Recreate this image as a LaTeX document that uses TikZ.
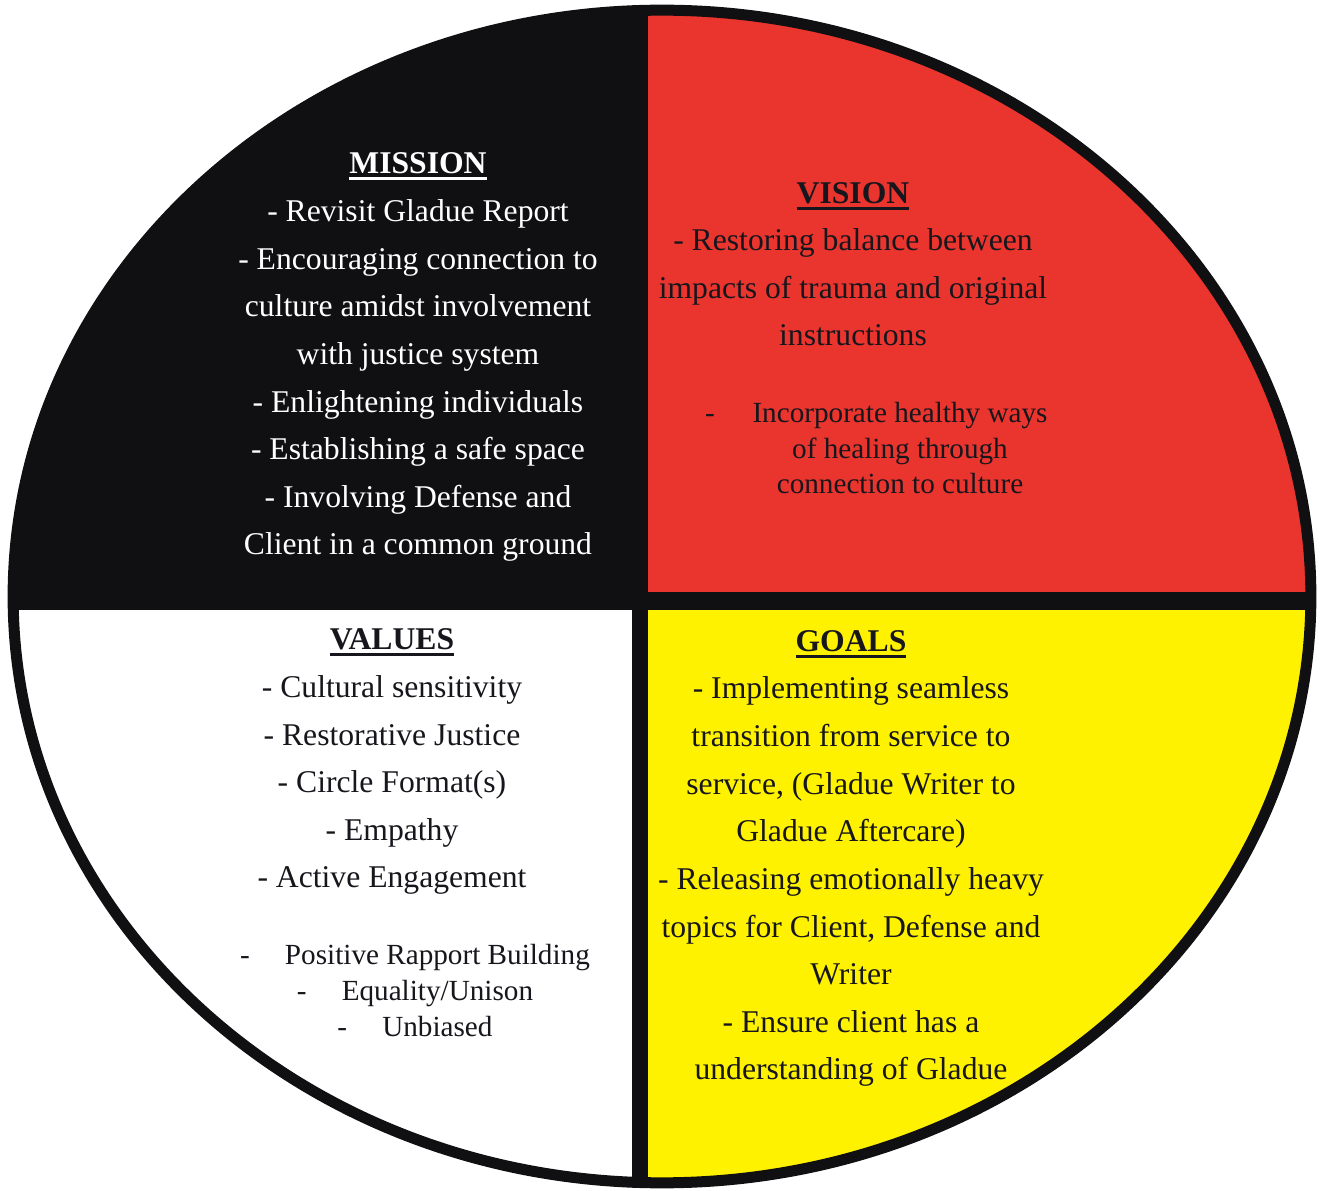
\documentclass[tikz,border=0pt]{standalone}
\usepackage{fontspec}
\setmainfont{Liberation Serif}
\definecolor{wheelblack}{RGB}{16,16,18}
\definecolor{wheelred}{RGB}{234,52,46}
\definecolor{wheelyellow}{RGB}{255,242,0}
\definecolor{wheelink}{RGB}{22,22,28}
\newcommand{\wheelhead}[1]{\setbox0\hbox{\textbf{#1}}\rlap{\rule[-1.9pt]{\wd0}{0.85pt}}\box0}

\begin{document}
\begin{tikzpicture}[x=0.01cm,y=-0.01cm,
  quarter/.style={align=center,anchor=base,text=wheelink,font=\fontsize{9}{13.55}\selectfont},
  smallquarter/.style={align=center,anchor=base,text=wheelink,font=\fontsize{8.3}{10.1}\selectfont}]
  \useasboundingbox (0,0) rectangle (1320,1191);
  \coordinate (O) at (662,596.5);
  \coordinate (X) at (640,601);
  \coordinate (top) at (640,0);
  \coordinate (bottom) at (640,1191);
  \coordinate (left) at (0,601);
  \coordinate (right) at (1320,601);

  % four quarters
  \begin{scope}
    \clip (O) ellipse [x radius=6.485cm, y radius=5.86cm];
    \fill[wheelblack] (0,0) rectangle (X);
    \fill[wheelred] (X) rectangle (1320,0);
    \fill[white] (X) rectangle (0,1191);
    \fill[wheelyellow] (X) rectangle (1320,1191);
    % cross
    \draw[wheelblack,line width=0.16cm] (top) -- (bottom);
    \draw[wheelblack,line width=0.18cm] (left) -- (right);
  \end{scope}

  % rim
  \draw[wheelblack,line width=0.11cm] (O) ellipse [x radius=6.485cm, y radius=5.86cm];

  % mission (base = last line)
  \node[quarter,text=white] (mission) at (418,555)
    {\wheelhead{MISSION}\\- Revisit Gladue Report\\- Encouraging connection to\\culture amidst involvement\\with justice system\\- Enlightening individuals\\- Establishing a safe space\\- Involving Defense and\\Client in a common ground};

  % vision
  \node[quarter] (vision) at (853,346)
    {\wheelhead{VISION}\\- Restoring balance between\\impacts of trauma and original\\instructions};
  \node[smallquarter] (visiondash) at (710,423) {-};
  \node[smallquarter] (visionheal) at (900,494)
    {Incorporate healthy ways\\of healing through\\connection to culture};

  % values
  \node[quarter] (values) at (392,888)
    {\wheelhead{VALUES}\\- Cultural sensitivity\\- Restorative Justice\\- Circle Format(s)\\- Empathy\\- Active Engagement};
  \node[smallquarter] (valuesmore) at (415,1036)
    {-\hspace{10pt}Positive Rapport Building\\-\hspace{10pt}Equality/Unison\\-\hspace{10pt}Unbiased};

  % goals
  \node[quarter] (goals) at (851,1080)
    {\wheelhead{GOALS}\\- Implementing seamless\\transition from service to\\service, (Gladue Writer to\\Gladue Aftercare)\\- Releasing emotionally heavy\\topics for Client, Defense and\\Writer\\- Ensure client has a\\understanding of Gladue};
\end{tikzpicture}
\end{document}
